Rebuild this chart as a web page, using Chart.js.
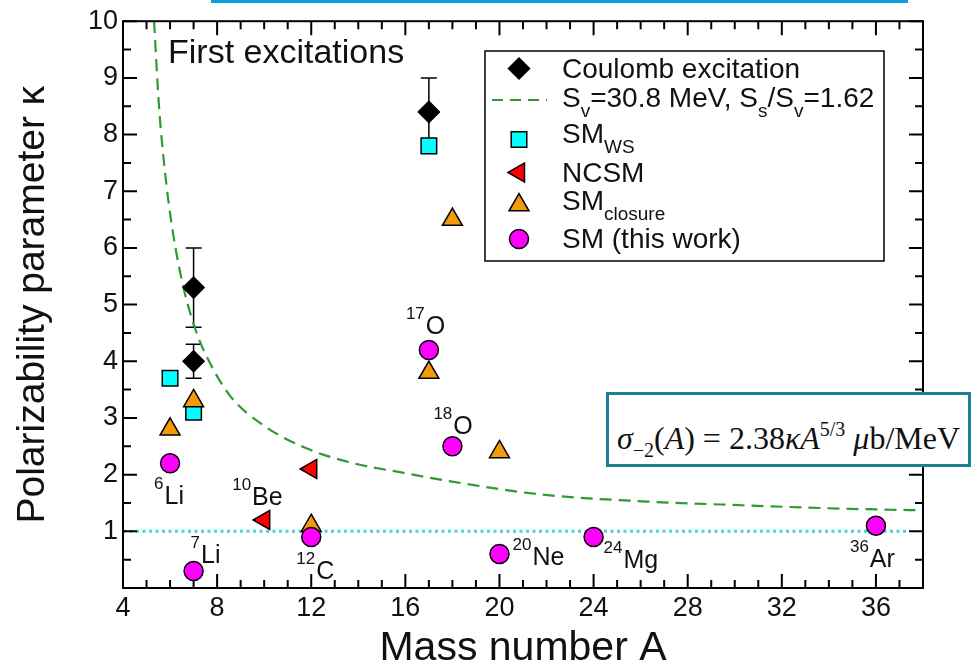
<!DOCTYPE html>
<html>
<head>
<meta charset="utf-8">
<title>Polarizability parameter</title>
<script src="https://cdn.jsdelivr.net/npm/chart.js@4"></script>
<style>
  body { margin: 0; background: #fff; }
  #wrap { position: relative; width: 972px; height: 670px; }
  #topbar { position: absolute; left: 211px; top: 0; width: 697px; height: 3px; background: #0aa0e0; }
  #formula {
    position: absolute; left: 606px; top: 392px; width: 359px; height: 69px;
    border: 3px solid #1b7f95; background: #fff; color: #111;
    font-family: 'Liberation Serif', 'DejaVu Serif', serif; font-size: 32px;
    line-height: 69px; text-align: center; white-space: nowrap;
  }
  #formula sub { font-size: 20px; vertical-align: -8px; }
  #formula sup { font-size: 20px; vertical-align: 13px; }
</style>
</head>
<body>
<div id="wrap">
  <canvas id="chart" width="972" height="670"></canvas>
  <div id="topbar"></div>
  <div id="formula"><i>σ</i><sub>−2</sub>(<i>A</i>) = 2.38<i>κA</i><sup>5/3</sup> <i>μ</i>b/MeV</div>
</div>
<script>
// Coulomb excitation (with error bars)
const coulombA = [7, 7, 17];
const coulombK = [5.3, 4.0, 8.4];
const coulombLow = [4.6, 3.7, 7.8];
const coulombHigh = [6.0, 4.3, 9.0];

const wsA = [6, 7, 17];
const wsK = [3.7, 3.1, 7.8];

const ncsmA = [10, 12];
const ncsmK = [1.2, 2.1];

const closureA = [6, 7, 12, 17, 18, 20];
const closureK = [2.8, 3.3, 1.1, 3.8, 6.5, 2.4];

const smA = [6, 7, 12, 17, 18, 20, 24, 36];
const smK = [2.2, 0.3, 0.9, 4.2, 2.5, 0.6, 0.9, 1.1];

// droplet curve, Sv = 30.8 MeV, Ss/Sv = 1.62
const curveA = [5.32, 5.53, 5.85, 6.13, 6.56, 7.13, 7.62, 8.55, 9.97, 11.82, 13.81, 15.94, 17.8, 21.77, 26.03, 30.3, 34.56, 38];
const curveK = [10, 8.5, 7.1, 6.25, 5.32, 4.5, 4.03, 3.39, 2.87, 2.46, 2.2, 2.03, 1.89, 1.65, 1.53, 1.46, 1.4, 1.37];

// kappa = 1 reference
const refA = [4, 37.3];
const refK = [1, 1];

const nucleusMass = ['6', '7', '10', '12', '17', '18', '20', '24', '36'];
const nucleusName = ['Li', 'Li', 'Be', 'C', 'O', 'O', 'Ne', 'Mg', 'Ar'];

const xLabels = [4, 8, 12, 16, 20, 24, 28, 32, 36];
const yLabels = [1, 2, 3, 4, 5, 6, 7, 8, 9, 10];

const family = "'Liberation Sans', Arial, sans-serif";
const ink = '#111';
Chart.defaults.font.family = family;
Chart.defaults.color = ink;

const pts = (xs, ys) => xs.map((x, i) => ({x: x, y: ys[i]}));

const markers = {
  sm:      {pointStyle: 'circle',   rotation: 0,   radius: 9.5,  fill: '#ff00ff'},
  closure: {pointStyle: 'triangle', rotation: 0,   radius: 11.5, fill: '#f39a0b'},
  ncsm:    {pointStyle: 'triangle', rotation: -90, radius: 11,   fill: '#ff0000'},
  ws:      {pointStyle: 'rect',     rotation: 0,   radius: 11,   fill: '#00ffff'},
  coulomb: {pointStyle: 'rectRot',  rotation: 0,   radius: 10.5, fill: '#000000'}
};

function markerSet(label, key, data, order) {
  const m = markers[key];
  return {
    label: label, data: data, order: order,
    pointStyle: m.pointStyle, rotation: m.rotation,
    pointRadius: m.radius, pointHoverRadius: m.radius,
    backgroundColor: m.fill, borderColor: '#000', borderWidth: 1.5
  };
}

function richText(ctx, parts, x, y, size, subSize, drop) {
  parts.forEach(([text, kind]) => {
    ctx.font = (kind ? subSize : size) + 'px ' + family;
    ctx.fillText(text, x, y + (kind === 'sub' ? drop : kind === 'sup' ? -drop : 0));
    x += ctx.measureText(text).width;
  });
}

function marker(ctx, key, x, y) {
  const m = markers[key];
  ctx.save();
  ctx.fillStyle = m.fill;
  ctx.strokeStyle = '#000';
  ctx.lineWidth = 1.5;
  Chart.helpers.drawPoint(ctx, {pointStyle: m.pointStyle, rotation: m.rotation, radius: m.radius, borderWidth: 1.5}, x, y);
  ctx.restore();
}

const errorBars = {
  id: 'errorBars',
  beforeDatasetsDraw(chart) {
    const {ctx, scales: {x, y}} = chart;
    ctx.save();
    ctx.strokeStyle = '#000';
    ctx.lineWidth = 1.5;
    coulombA.forEach((a, i) => {
      const px = x.getPixelForValue(a);
      const lo = y.getPixelForValue(coulombLow[i]);
      const hi = y.getPixelForValue(coulombHigh[i]);
      ctx.beginPath();
      ctx.moveTo(px, lo); ctx.lineTo(px, hi);
      ctx.moveTo(px - 8, lo); ctx.lineTo(px + 8, lo);
      ctx.moveTo(px - 8, hi); ctx.lineTo(px + 8, hi);
      ctx.stroke();
    });
    ctx.restore();
  }
};

// frame with inward ticks on all four sides
const frame = {
  id: 'frame',
  afterDatasetsDraw(chart) {
    const {ctx, chartArea: a, scales: {x, y}} = chart;
    ctx.save();
    ctx.strokeStyle = '#000';
    ctx.lineWidth = 2;
    ctx.beginPath();
    x.ticks.forEach(t => {
      const px = x.getPixelForValue(t.value);
      const len = xLabels.includes(t.value) ? 14 : 8;
      ctx.moveTo(px, a.bottom); ctx.lineTo(px, a.bottom - len);
      ctx.moveTo(px, a.top); ctx.lineTo(px, a.top + len);
    });
    y.ticks.forEach(t => {
      const py = y.getPixelForValue(t.value);
      const len = Number.isInteger(t.value) ? 14 : 8;
      ctx.moveTo(a.left, py); ctx.lineTo(a.left + len, py);
      ctx.moveTo(a.right, py); ctx.lineTo(a.right - len, py);
    });
    ctx.stroke();
    ctx.strokeRect(a.left, a.top, a.right - a.left, a.bottom - a.top);
    ctx.restore();
  }
};

// nucleus names next to the points: [dataset, index, dx, dy]
const nucleusAnchor = [
  ['sm', 0, -16, 41],
  ['sm', 1, -3, -8],
  ['ncsm', 0, -32, -15],
  ['sm', 2, -15, 42],
  ['sm', 3, -23, -16],
  ['sm', 4, -19, -12],
  ['sm', 5, 13, 11],
  ['sm', 6, 10, 31],
  ['sm', 7, -26, 41]
];
const anchorData = {sm: [smA, smK], ncsm: [ncsmA, ncsmK]};

const legendRows = [
  {key: 'coulomb', y: 68.5, base: 78, text: [['Coulomb excitation']]},
  {key: 'curve', y: 100, base: 107, text: [['S'], ['v', 'sub'], ['=30.8 MeV, S'], ['s', 'sub'], ['/S'], ['v', 'sub'], ['=1.62']]},
  {key: 'ws', y: 139.5, base: 143, text: [['SM'], ['WS', 'sub']]},
  {key: 'ncsm', y: 172.5, base: 182, text: [['NCSM']]},
  {key: 'closure', y: 205, base: 210, text: [['SM'], ['closure', 'sub']]},
  {key: 'sm', y: 239, base: 248, text: [['SM (this work)']]}
];

const notes = {
  id: 'notes',
  afterDraw(chart) {
    const {ctx, scales: {x, y}} = chart;
    ctx.save();
    ctx.fillStyle = ink;
    ctx.textBaseline = 'alphabetic';
    ctx.textAlign = 'left';

    ctx.font = '34px ' + family;
    ctx.fillText('First excitations', 168, 63);

    nucleusAnchor.forEach(([set, i, dx, dy], n) => {
      const [xs, ys] = anchorData[set];
      const px = x.getPixelForValue(xs[i]) + dx;
      const py = y.getPixelForValue(ys[i]) + dy;
      ctx.font = '17px ' + family;
      ctx.fillText(nucleusMass[n], px, py - 15);
      const w = ctx.measureText(nucleusMass[n]).width;
      ctx.font = '25px ' + family;
      ctx.fillText(nucleusName[n], px + w + 1, py);
    });

    // legend
    ctx.fillStyle = '#fff';
    ctx.fillRect(485, 51, 399, 210);
    ctx.strokeStyle = '#000';
    ctx.lineWidth = 1.5;
    ctx.strokeRect(485, 51, 399, 210);
    legendRows.forEach(r => {
      if (r.key === 'curve') {
        ctx.save();
        ctx.strokeStyle = '#2f9a2f';
        ctx.lineWidth = 2.2;
        ctx.setLineDash([11, 7]);
        ctx.beginPath();
        ctx.moveTo(492, r.y); ctx.lineTo(547, r.y);
        ctx.stroke();
        ctx.restore();
      } else {
        marker(ctx, r.key, 519, r.y);
      }
      ctx.fillStyle = ink;
      richText(ctx, r.text, 562, r.base, 28, 19, 10);
    });
    ctx.restore();
  }
};

new Chart(document.getElementById('chart'), {
  type: 'scatter',
  data: {
    datasets: [
      markerSet('SM (this work)', 'sm', pts(smA, smK), 1),
      markerSet('SM closure', 'closure', pts(closureA, closureK), 2),
      markerSet('NCSM', 'ncsm', pts(ncsmA, ncsmK), 3),
      markerSet('SM WS', 'ws', pts(wsA, wsK), 4),
      markerSet('Coulomb excitation', 'coulomb', pts(coulombA, coulombK), 5),
      {
        label: 'kappa = 1', data: pts(refA, refK), order: 6,
        showLine: true, pointRadius: 0, pointHoverRadius: 0,
        borderColor: '#3fd9cf', borderWidth: 3, borderDash: [3, 3.5]
      },
      {
        label: 'Sv=30.8 MeV, Ss/Sv=1.62', data: pts(curveA, curveK), order: 7,
        showLine: true, pointRadius: 0, pointHoverRadius: 0,
        borderColor: '#2f9a2f', borderWidth: 2.2, borderDash: [12, 7],
        cubicInterpolationMode: 'monotone'
      }
    ]
  },
  options: {
    responsive: false,
    animation: false,
    layout: {padding: {top: 15, right: 49, bottom: 0, left: 0}},
    plugins: {legend: {display: false}, tooltip: {enabled: false}},
    scales: {
      x: {
        type: 'linear', min: 4, max: 38,
        grid: {display: false, drawTicks: false},
        border: {display: false},
        ticks: {
          stepSize: 1, autoSkip: false, maxRotation: 0, minRotation: 0,
          padding: 4, font: {size: 27},
          callback: v => xLabels.includes(v) ? String(v) : ''
        },
        title: {display: true, text: 'Mass number A', font: {size: 41, lineHeight: 1}, padding: {top: 0, bottom: 1}},
        afterFit: s => { s.height = 82; }
      },
      y: {
        type: 'linear', min: 0, max: 10,
        grid: {display: false, drawTicks: false},
        border: {display: false},
        ticks: {
          stepSize: 0.5, autoSkip: false, padding: 5, font: {size: 27},
          callback: v => yLabels.includes(v) ? String(v) : ''
        },
        title: {display: true, text: 'Polarizability parameter κ', font: {size: 39, lineHeight: 1}, padding: {top: 14, bottom: 0}},
        afterFit: s => { s.width = 123; }
      }
    }
  },
  plugins: [errorBars, frame, notes]
});
</script>
</body>
</html>
